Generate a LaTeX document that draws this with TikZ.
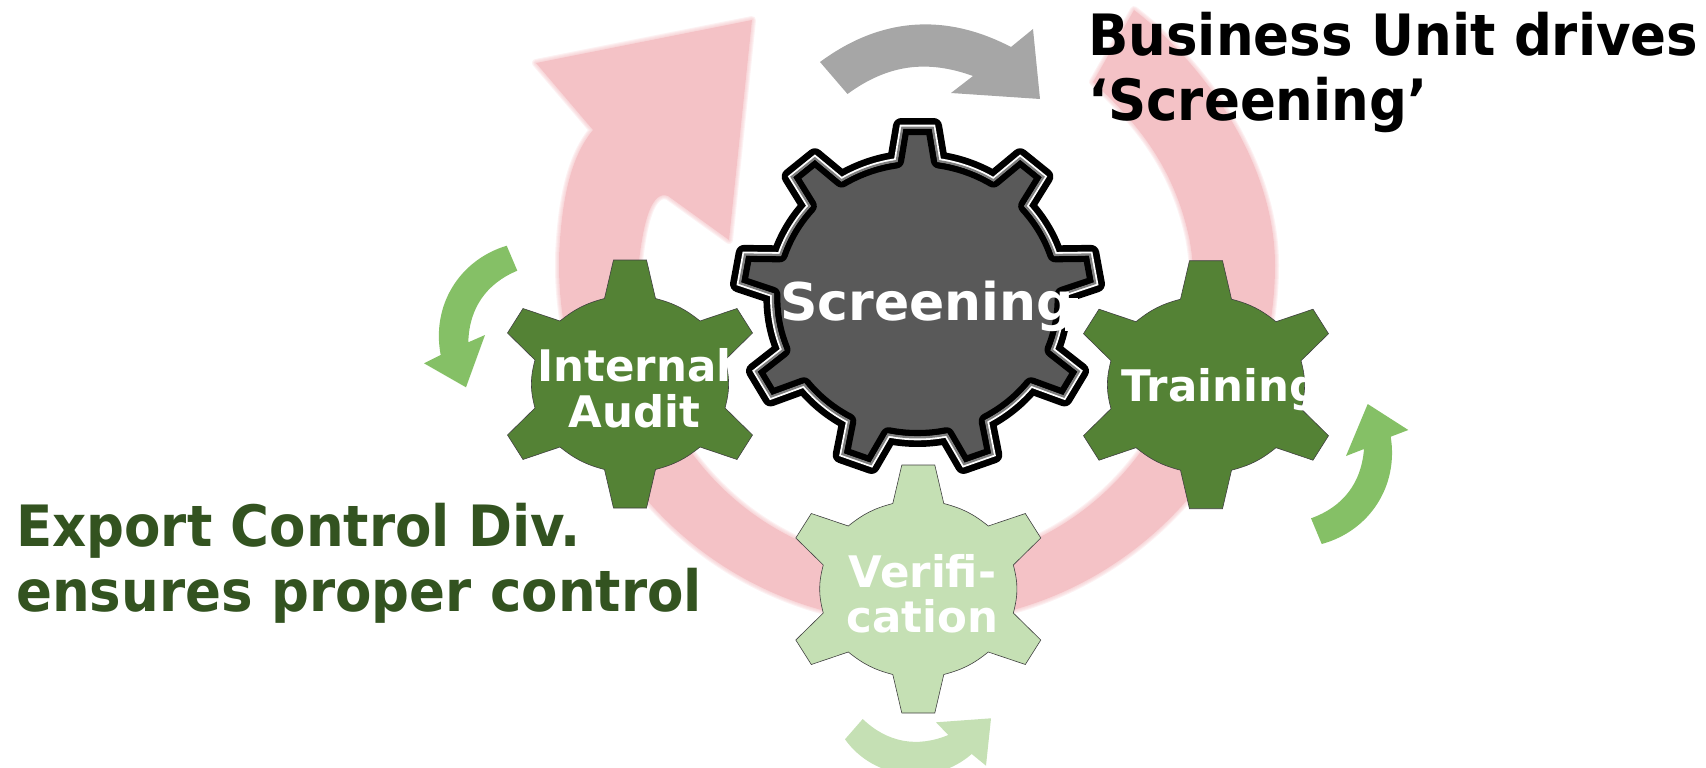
\documentclass[tikz,border=0pt]{standalone}
\usepackage{fontspec}
\setmainfont{DejaVu Sans}
\newfontfamily\narrowfont[FakeStretch=0.93]{DejaVu Sans}
\usepackage{xcolor}
\usetikzlibrary{positioning, calc}
\definecolor{ringpink}{HTML}{F4C2C6}
\definecolor{darkgreen}{HTML}{548235}
\definecolor{lightgreen}{HTML}{C5E0B4}
\definecolor{arrowgreen}{HTML}{85C066}
\definecolor{textgreen}{HTML}{335320}
\definecolor{maingray}{HTML}{595959}
\newcommand{\ringpath}{(1134,10) .. controls (1200,60) and (1275,160) .. (1275,265)
    arc[start angle=0, end angle=182, radius=358]
    .. controls (562,195) and (572,155) .. (593,130) -- (536,63) -- (752,20) -- (729,240) -- (668,196)
    .. controls (652,190) and (645,222) .. (642,240)
    arc[start angle=190, end angle=-10, radius=278]
    .. controls (1175,170) and (1140,125) .. (1093,82) -- cycle}
\newcommand{\smallgearpath}{(-16.5,-124) -- (16.5,-124) -- (25.5,-85.5) to[bend left=12] (70,-63)
    -- (107,-75.5) -- (122.5,-51) -- (95,-24) to[bend left=15] (95,24)
    -- (122.5,51) -- (107,75.5) -- (70,63) to[bend left=12] (25.5,85.5)
    -- (16.5,124) -- (-16.5,124) -- (-25.5,85.5) to[bend left=12] (-70,63)
    -- (-107,75.5) -- (-122.5,51) -- (-95,24) to[bend left=15] (-95,-24)
    -- (-122.5,-51) -- (-107,-75.5) -- (-70,-63) to[bend left=12] (-25.5,-85.5) -- cycle}
\newcommand{\maingearpath}{(261.4:140) \foreach \a in {270,310,...,590} {
    -- (\a-5.15:172.7) -- (\a+5.15:172.7) -- (\a+8.6:140)
    arc[start angle=\a+8.6, end angle=\a+31.4, radius=140]} -- cycle}
\begin{document}
\begin{tikzpicture}[
        x=1pt, y=-1pt,
        smallgear/.style={draw=black!75, line width=0.6pt, line join=miter},
        gearlabel/.style={text=white, inner sep=0pt, align=center, font=\bfseries\fontsize{43.5}{45.5}\selectfont},
        biglabel/.style={inner sep=0pt, align=left, font=\narrowfont\bfseries\fontsize{57}{65}\selectfont}
    ]
        \useasboundingbox (0,0) rectangle (1706,768);

        % big arrow behind everything
        \fill[ringpink] \ringpath;
        \foreach \w in {8,6,4,2} {
            \draw[ringpink, opacity=0.22, line width=\w pt, line join=round] \ringpath;
        }

        % turning arrows
        \fill[black!35] (820,62) to[bend left=32] (1011,47) -- (1033,29) -- (1040,99) -- (951,93) -- (973,76)
            to[bend right=28] (847.5,94) -- cycle;
        \fill[arrowgreen] (506.7,245.7) to[bend right=42] (440.7,355) -- (424,363.3) -- (466,387.3) -- (485,335)
            -- (468.3,342.3) to[bend left=33] (517.3,270.7) -- cycle;
        \fill[arrowgreen] (1321.7,544) to[bend right=42] (1390.7,436.7) -- (1408.3,430) -- (1367.7,404) -- (1346,456)
            -- (1364,449) to[bend left=33] (1311,518.3) -- cycle;
        \fill[lightgreen] (862.7,719) to[bend right=33] (948.3,735) -- (936,722.3) -- (991,718.3) -- (986,765.7)
            -- (971.7,754) to[bend left=48] (845,739.3) -- cycle;

        % small gears
        \draw[smallgear, fill=darkgreen, shift={(630,384)}] \smallgearpath;
        \draw[smallgear, fill=darkgreen, shift={(1206,384.7)}] \smallgearpath;
        \draw[smallgear, fill=lightgreen, shift={(918.3,589)}] \smallgearpath;

        % main gear
        \begin{scope}[shift={(917.5,298.5)}, xscale=1.04]
            \fill[maingray] \maingearpath;
            \draw[black, line width=17pt, line join=round] \maingearpath;
            \draw[white, line width=3.6pt, line join=miter] \maingearpath;
            \begin{scope}
                \clip \maingearpath;
                \draw[black!50, line width=4.4pt, line join=miter] \maingearpath;
            \end{scope}
        \end{scope}
        \fill[white] (1065,298) rectangle (1078,331);

        \node[gearlabel, anchor=base] (audit) at (634.5,427.3) {Internal\\Audit};
        \node[gearlabel, anchor=base west] (training) at (1121.7,401.7) {Training};
        \node[gearlabel, anchor=base] (verification) at (922.5,632.7) {Verifi-\\cation};
        \node[anchor=base west, inner sep=0pt, text=white, font=\bfseries\fontsize{52}{60}\selectfont] (screening) at (780,320.7) {Screening};

        \node[biglabel, anchor=base west] (business) at (1088,120.8) {Business Unit drives\\‘Screening’};
        \node[biglabel, anchor=base west, text=textgreen] (export) at (16,611) {Export Control Div.\\ensures proper control};
    \end{tikzpicture}
\end{document}
